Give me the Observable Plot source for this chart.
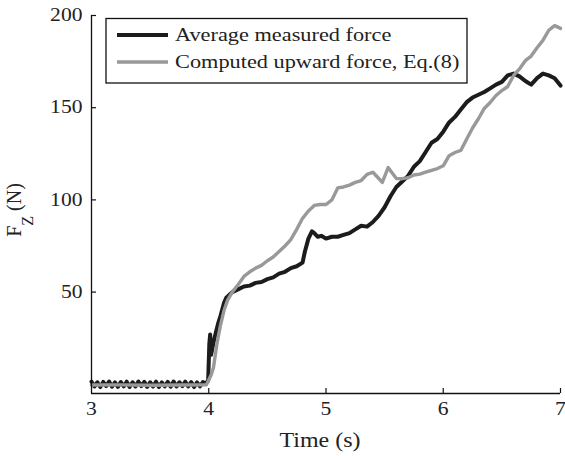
<!DOCTYPE html>
<html><head><meta charset="utf-8">
<script src="https://cdn.jsdelivr.net/npm/d3@7"></script>
<script src="https://cdn.jsdelivr.net/npm/@observablehq/plot@0.6"></script>
<style>body{margin:0;background:#fff}</style>
</head><body><div id="chart"></div>
<script>
// Average measured force (black)
const measuredTime = [3.000,3.025,3.050,3.075,3.100,3.125,3.150,3.175,3.200,3.225,3.250,3.275,3.300,3.325,3.350,3.375,3.400,3.425,3.450,3.475,3.500,3.525,3.550,3.575,3.600,3.625,3.650,3.675,3.700,3.725,3.750,3.775,3.800,3.825,3.850,3.875,3.900,3.925,3.950,
  3.975,3.995,4.005,4.012,4.020,4.035,4.060,4.080,4.100,4.130,4.150,4.200,4.250,4.300,4.350,4.400,4.450,4.500,4.550,4.600,4.650,4.700,4.750,4.800,4.820,4.850,4.880,4.900,4.930,4.960,
  5.000,5.050,5.100,5.150,5.200,5.250,5.300,5.350,5.400,5.450,5.500,5.550,5.600,5.650,5.700,5.750,5.800,5.850,5.900,5.950,
  6.000,6.050,6.100,6.150,6.200,6.250,6.300,6.350,6.400,6.450,6.500,6.550,6.600,6.650,6.700,6.750,6.800,6.850,6.900,6.950,7.000];
const measuredForce = [1.4,-1.2,1.1,-1.5,1.3,-1.0,1.5,-1.3,1.0,-1.4,1.2,-1.1,1.4,-1.5,1.1,-1.2,1.5,-1.0,1.3,-1.4,1.1,-1.2,1.4,-1.5,1.0,-1.1,1.3,-1.3,1.5,-1.2,1.1,-1.0,1.4,-1.2,1.2,-1.5,1.0,-1.1,1.2,
  0.5,2,22,27,16,21,28,33,37,44,47,50,51.5,53,53.5,55,55.5,57,58,60,61,63,64,66,72,79,83,82,80,80.5,
  79,80,80,81,82,84,86,85.5,88,91.5,96,102,107,110,113,118,121,126,131,133,
  137,142,145,149,153,155.5,157,158.5,160.5,162.5,164,167.5,168.5,167,164.5,162.5,166,168.5,167.5,166,162];

// Computed upward force, Eq.(8) (gray)
const computedTime = [3.00,3.25,3.50,3.75,3.98,4.02,4.04,4.07,4.10,4.13,4.16,4.20,4.25,4.30,4.35,4.40,4.45,4.50,4.55,4.60,4.65,4.70,4.75,4.80,4.85,4.90,4.95,
  5.00,5.05,5.10,5.15,5.20,5.25,5.30,5.35,5.40,5.45,5.48,5.53,5.60,5.65,5.70,5.75,5.80,5.85,5.90,5.95,
  6.00,6.05,6.10,6.15,6.20,6.25,6.30,6.35,6.40,6.45,6.50,6.55,6.60,6.65,6.70,6.75,6.80,6.85,6.90,6.95,7.00];
const computedForce = [-0.4,-0.3,-0.5,-0.4,-0.3,5,9,22,32,40,45.5,50,54,58.5,61,63,64.5,67,69,72,75,78.5,84,90,94,97,97.5,
  97.5,100,106.5,107,108,109.5,110.5,113.8,115,111.6,109.5,117.5,111.6,111.5,112,113.5,114,115,116,117,
  118.5,124,125.7,126.8,133,139,144,149.6,152.8,156.6,159.3,161.5,167.5,171,175.5,178,182.5,186.5,192,194.5,193];

const xTicks = [3,4,5,6,7];
const yTicks = [50,100,150,200];
const seriesNames = ["Average measured force", "Computed upward force, Eq.(8)"];
const seriesColors = ["#1c1c1c", "#999999"];
const xLabel = "Time (s)";

const measured = measuredTime.map((t,i) => ({t, f: measuredForce[i]}));
const computed = computedTime.map((t,i) => ({t, f: computedForce[i]}));

const W = 565, H = 456, ML = 91, MR = 5, MT = 15, MB = 63;
const FONT = "'Liberation Serif', 'Times New Roman', serif";

const svg = Plot.plot({
  width: W, height: H,
  marginLeft: ML, marginRight: MR, marginTop: MT, marginBottom: MB,
  style: {fontFamily: FONT, color: "#222", background: "#fff"},
  x: {domain: [3, 7]},
  y: {domain: [-5, 200]},
  marks: [
    Plot.line(measured, {x: "t", y: "f", stroke: seriesColors[0], strokeWidth: 4, strokeLinejoin: "round"}),
    Plot.line(computed, {x: "t", y: "f", stroke: seriesColors[1], strokeWidth: 3.4, strokeLinejoin: "round"}),
    Plot.ruleX([3], {stroke: "#111", strokeWidth: 1.3}),
    Plot.ruleY([-5], {stroke: "#111", strokeWidth: 1.3}),
    Plot.tickX(xTicks.slice(1), {x: d => d, stroke: "#111", strokeWidth: 1.2, insetTop: (H - MT - MB) - 5}),
    Plot.tickY(yTicks, {y: d => d, stroke: "#111", strokeWidth: 1.2, insetRight: (W - ML - MR) - 5}),
    Plot.axisX(xTicks, {tickSize: 0, tickPadding: 9, fontSize: 18, label: null, fill: "#222", tickFormat: d3.format("d")}),
    Plot.axisY(yTicks, {tickSize: 0, tickPadding: 9, fontSize: 18, label: null, fill: "#222", tickFormat: d3.format("d")}),
    Plot.text([xLabel], {frameAnchor: "bottom", lineAnchor: "top", dy: 39, dx: -6, fontSize: 20, fill: "#222"})
  ]
});

// Horizontal stretch of the serif type to match the reference
svg.querySelectorAll("text").forEach(t => {
  const tr = t.getAttribute("transform");
  if (tr) {
    t.setAttribute("transform", tr + " scale(1.2,1)");
  } else if (t.hasAttribute("x") || t.hasAttribute("y")) {
    const x = +t.getAttribute("x") || 0, y = +t.getAttribute("y") || 0;
    t.removeAttribute("x"); t.removeAttribute("y");
    t.setAttribute("transform", `translate(${x},${y}) scale(1.2,1)`);
  }
});

const s = d3.select(svg);
// Y axis label F_z (N)
const yl = s.append("text")
  .attr("transform", "translate(21,210) rotate(-90)")
  .attr("text-anchor", "middle")
  .attr("font-family", FONT).attr("font-size", 20).attr("fill", "#222");
yl.append("tspan").text("F");
yl.append("tspan").attr("font-size", 16).attr("dy", 12).text("Z");
yl.append("tspan").attr("dy", -12).text(" (N)");

// Legend
const lg = s.append("g").attr("class", "legend");
lg.append("rect").attr("x", 106).attr("y", 18.5).attr("width", 361).attr("height", 64.5)
  .attr("fill", "#fff").attr("stroke", "#111").attr("stroke-width", 1.3);
const rowsY = [35, 62];
seriesNames.forEach((name, i) => {
  lg.append("line").attr("x1", 117).attr("x2", 168).attr("y1", rowsY[i]).attr("y2", rowsY[i])
    .attr("stroke", seriesColors[i]).attr("stroke-width", i === 0 ? 4 : 3.5);
  lg.append("text").attr("transform", `translate(175,${rowsY[i] + 6}) scale(1.24,1)`)
    .attr("text-anchor", "start")
    .attr("font-family", FONT).attr("font-size", 18).attr("fill", "#222").text(name);
});

document.getElementById("chart").appendChild(svg);
</script>
</body></html>
